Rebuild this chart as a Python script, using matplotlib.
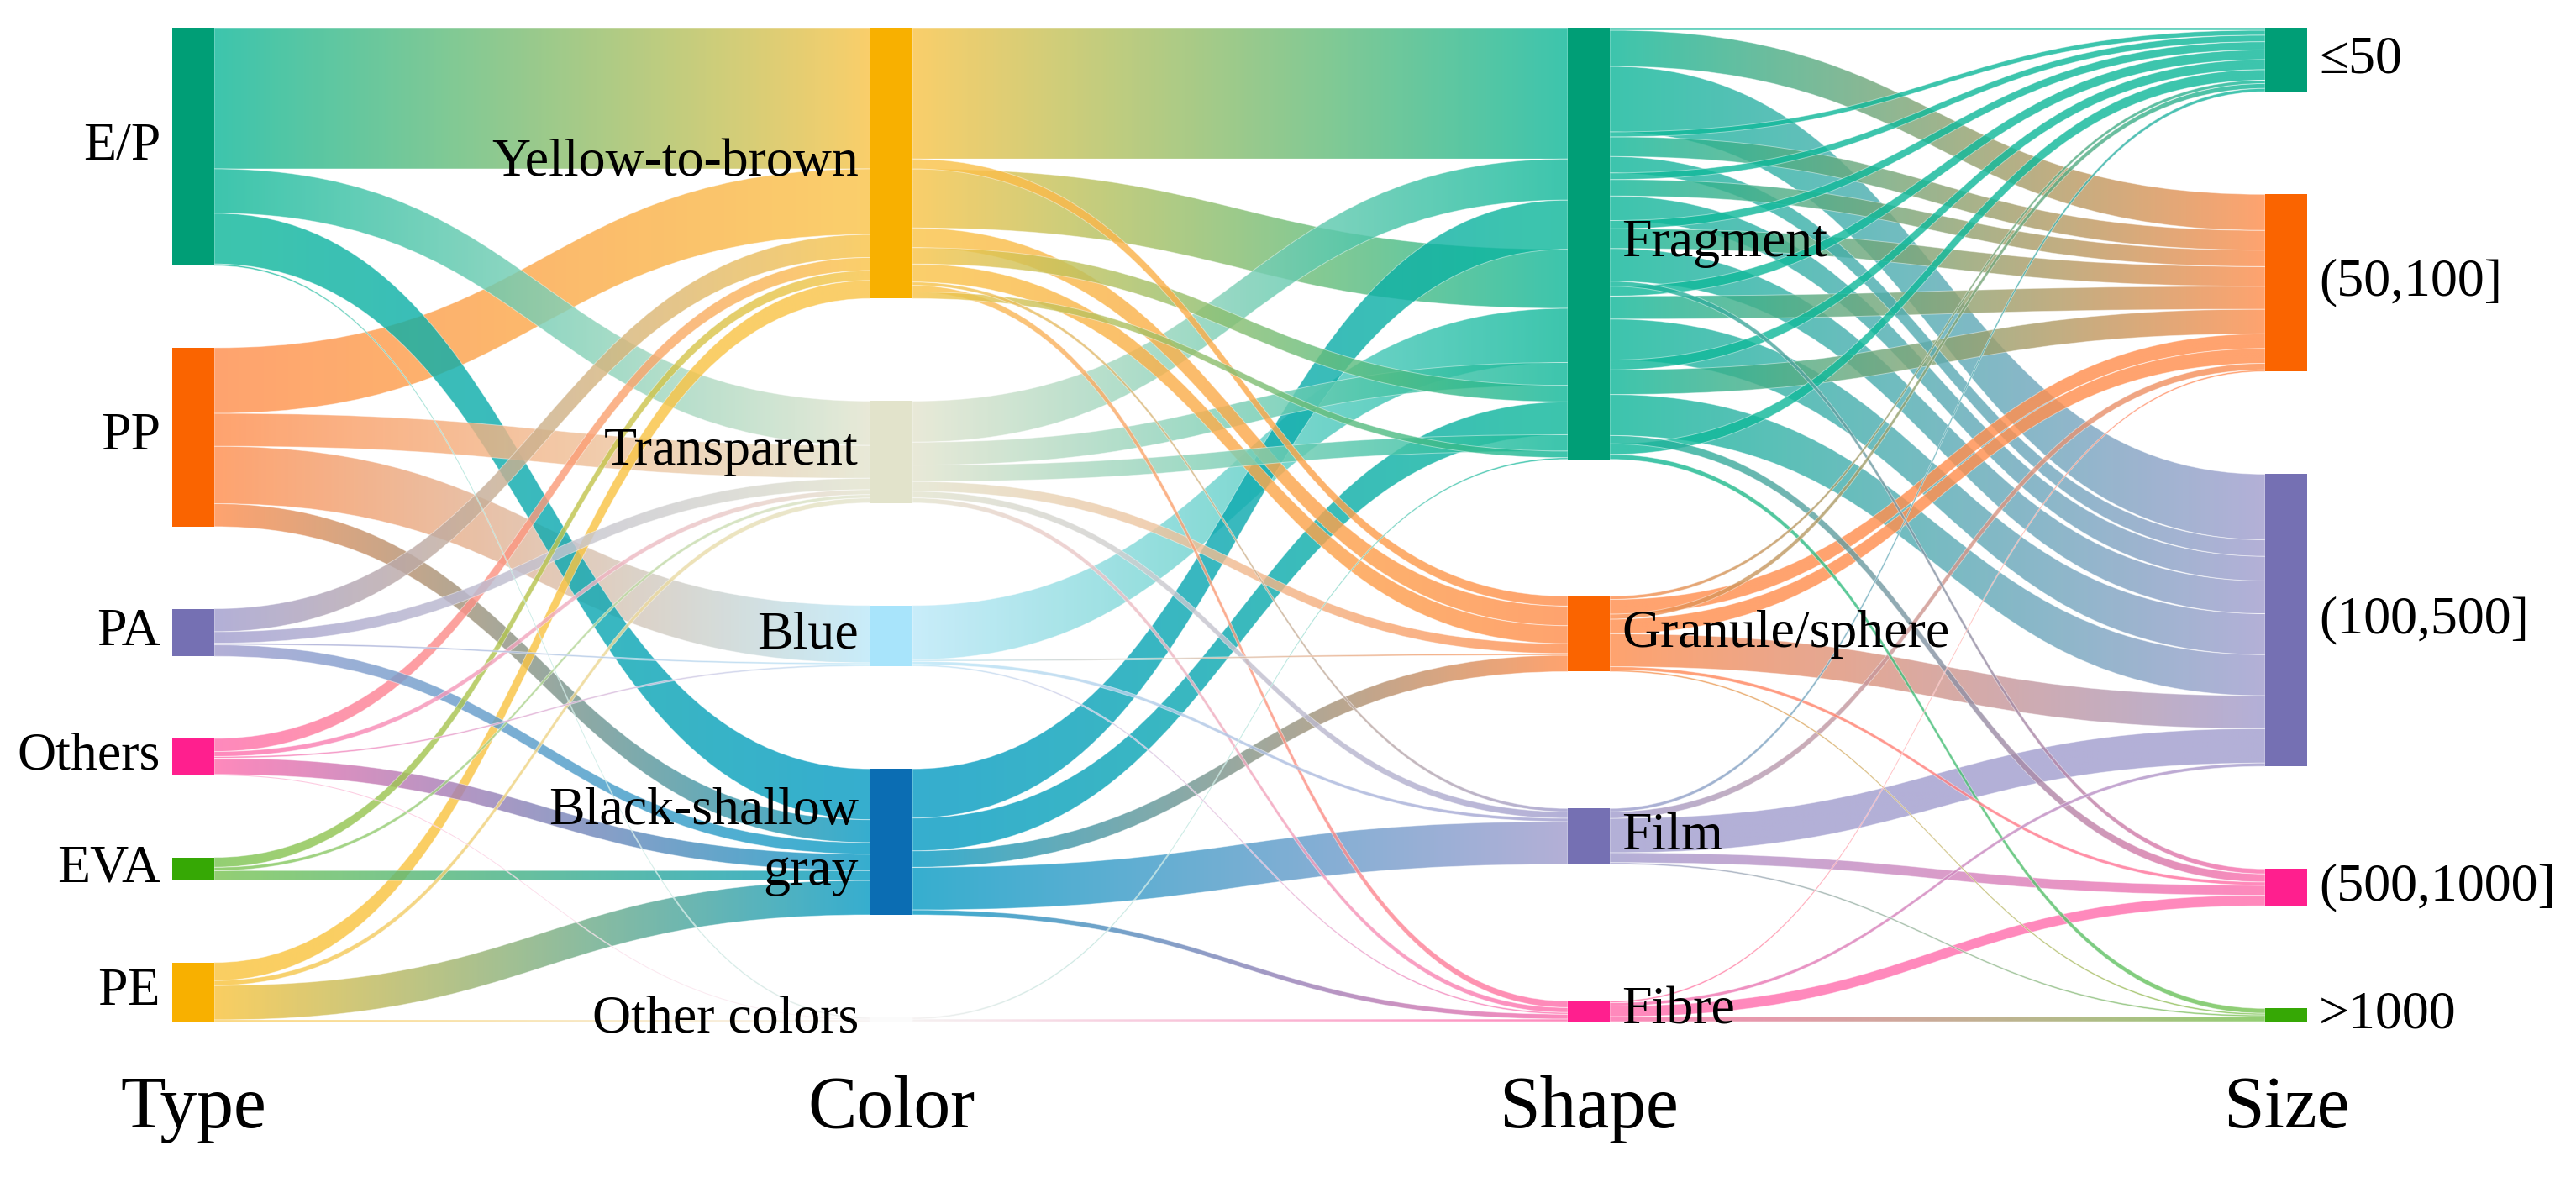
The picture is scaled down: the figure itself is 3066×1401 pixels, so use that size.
import matplotlib
matplotlib.use("Agg")
import matplotlib.pyplot as plt
import numpy as np
from matplotlib.path import Path
from matplotlib.patches import PathPatch, Rectangle
from matplotlib.colors import to_rgb

plt.rcParams['font.family'] = ['Liberation Serif', 'DejaVu Serif']

# ---- data ----
column_titles = ["Type", "Color", "Shape", "Size"]
type_nodes = ["E/P", "PP", "PA", "Others", "EVA", "PE"]
color_nodes = ["Yellow-to-brown", "Transparent", "Blue", "Black-shallow\ngray", "Other colors"]
shape_nodes = ["Fragment", "Granule/sphere", "Film", "Fibre"]
size_nodes = ["≤50", "(50,100]", "(100,500]", "(500,1000]", ">1000"]

# sub-flows (source, target, value); list order = stacking order on both nodes
type_to_color = [
    ("E/P", "Yellow-to-brown", 86), ("E/P", "Transparent", 27),
    ("E/P", "Black-shallow\ngray", 31), ("E/P", "Other colors", 1),
    ("PP", "Yellow-to-brown", 40), ("PP", "Transparent", 20),
    ("PP", "Blue", 35), ("PP", "Black-shallow\ngray", 14),
    ("PA", "Yellow-to-brown", 14), ("PA", "Transparent", 7),
    ("PA", "Blue", 1), ("PA", "Black-shallow\ngray", 7),
    ("Others", "Yellow-to-brown", 8), ("Others", "Transparent", 3),
    ("Others", "Blue", 1), ("Others", "Black-shallow\ngray", 10),
    ("Others", "Other colors", 0.5),
    ("EVA", "Yellow-to-brown", 6), ("EVA", "Transparent", 2),
    ("EVA", "Black-shallow\ngray", 6),
    ("PE", "Yellow-to-brown", 11), ("PE", "Transparent", 3),
    ("PE", "Black-shallow\ngray", 21), ("PE", "Other colors", 1),
]
color_to_shape = [
    ("Yellow-to-brown", "Fragment", 80), ("Transparent", "Fragment", 25),
    ("Black-shallow\ngray", "Fragment", 30), ("Yellow-to-brown", "Granule/sphere", 6),
    ("Yellow-to-brown", "Fragment", 36), ("Blue", "Fragment", 33),
    ("Transparent", "Fragment", 14), ("Yellow-to-brown", "Granule/sphere", 12),
    ("Yellow-to-brown", "Fragment", 10), ("Black-shallow\ngray", "Fragment", 20),
    ("Transparent", "Fragment", 10), ("Yellow-to-brown", "Granule/sphere", 11),
    ("Yellow-to-brown", "Film", 2), ("Yellow-to-brown", "Fibre", 4),
    ("Yellow-to-brown", "Fragment", 4), ("Other colors", "Fragment", 1),
    ("Transparent", "Granule/sphere", 6), ("Transparent", "Film", 4),
    ("Transparent", "Fibre", 3), ("Blue", "Granule/sphere", 1),
    ("Blue", "Film", 2), ("Blue", "Fibre", 1),
    ("Black-shallow\ngray", "Granule/sphere", 10), ("Black-shallow\ngray", "Film", 26),
    ("Black-shallow\ngray", "Fibre", 3), ("Other colors", "Fibre", 1.5),
]
shape_to_size = [
    ("Fragment", "≤50", 1.5), ("Fragment", "(50,100]", 22), ("Fragment", "(100,500]", 40),
    ("Fragment", "≤50", 3), ("Fragment", "(50,100]", 12), ("Fragment", "(100,500]", 10),
    ("Fragment", "≤50", 4), ("Fragment", "(50,100]", 10), ("Fragment", "(100,500]", 15),
    ("Fragment", "≤50", 5), ("Fragment", "(50,100]", 12), ("Fragment", "(100,500]", 20),
    ("Fragment", "(500,1000]", 3), ("Fragment", "≤50", 6), ("Fragment", "(50,100]", 14),
    ("Fragment", "(100,500]", 25), ("Fragment", "≤50", 6), ("Fragment", "(50,100]", 15),
    ("Fragment", "(100,500]", 25), ("Fragment", "(500,1000]", 5), ("Fragment", "≤50", 6.5),
    ("Fragment", ">1000", 3),
    ("Granule/sphere", "≤50", 2), ("Granule/sphere", "(50,100]", 9),
    ("Granule/sphere", "≤50", 3), ("Granule/sphere", "(50,100]", 9),
    ("Granule/sphere", "(100,500]", 20), ("Granule/sphere", "(500,1000]", 2),
    ("Granule/sphere", ">1000", 1),
    ("Film", "≤50", 2), ("Film", "(50,100]", 4), ("Film", "(100,500]", 21),
    ("Film", "(500,1000]", 6), ("Film", ">1000", 1),
    ("Fibre", "(50,100]", 1), ("Fibre", "(100,500]", 2), ("Fibre", "(500,1000]", 6.5),
    ("Fibre", ">1000", 3),
]

# (node colour, link colour)
type_colors = [("#009e76", "#12b99b"), ("#fa6400", "#ff8f4f"), ("#7570b3", "#a39fcf"),
               ("#ff1f8e", "#ff6fae"), ("#36a805", "#7cc555"), ("#f8b000", "#f9c43f")]
color_colors = [("#f8b000", "#f9c54a"), ("#e2e3cb", "#e4e5d0"), ("#a8e4fb", "#bde9f9"),
                ("#0b6db3", "#0a9cc5"), ("#fbfbfb", "#f3eeee")]
shape_colors = [("#009e76", "#12b99b"), ("#fa6400", "#ff8f4f"), ("#7570b3", "#a39fcf"),
                ("#ff1f8e", "#ff6fae")]
size_colors = [("#009e76", "#12b99b"), ("#fa6400", "#ff8f4f"), ("#7570b3", "#a39fcf"),
               ("#ff1f8e", "#ff6fae"), ("#36a805", "#7cc555")]

# ---- layout ----
W, H = 3066, 1401
col_x = [205, 1036, 1866, 2696]
node_w = 50
y_top, y_bot = 33, 1216

names = [type_nodes, color_nodes, shape_nodes, size_nodes]
cols = [type_colors, color_colors, shape_colors, size_colors]
stages = [type_to_color, color_to_shape, shape_to_size]

values = []
for c in range(4):
    v_in = np.zeros(len(names[c]))
    v_out = np.zeros(len(names[c]))
    if c > 0:
        for s, t, v in stages[c - 1]:
            v_in[names[c].index(t)] += v
    if c < 3:
        for s, t, v in stages[c]:
            v_out[names[c].index(s)] += v
    values.append(np.maximum(v_in, v_out))

ky = 0.587 * (y_bot - y_top) / max(v.sum() for v in values)
node_y = []
for v in values:
    gap = ((y_bot - y_top) - v.sum() * ky) / (len(v) - 1)
    node_y.append(y_top + np.concatenate([[0], np.cumsum(v[:-1] * ky + gap)]))

fig = plt.figure(figsize=(W / 100, H / 100), dpi=100)
ax = fig.add_axes([0, 0, 1, 1])
ax.set_xlim(0, W)
ax.set_ylim(H, 0)
ax.axis("off")


def draw_link(x0, x1, s0, t0, h, c0, c1, z):
    xm = (x0 + x1) / 2
    s1, t1 = s0 + h, t0 + h
    verts = [(x0, s0), (xm, s0), (xm, t0), (x1, t0),
             (x1, t1), (xm, t1), (xm, s1), (x0, s1), (x0, s0)]
    codes = [Path.MOVETO, Path.CURVE4, Path.CURVE4, Path.CURVE4,
             Path.LINETO, Path.CURVE4, Path.CURVE4, Path.CURVE4, Path.CLOSEPOLY]
    patch = PathPatch(Path(verts, codes), facecolor="none", edgecolor="white",
                      lw=0.7, alpha=0.45, zorder=z + 0.0005)
    ax.add_patch(patch)
    a, b = np.array(to_rgb(c0)), np.array(to_rgb(c1))
    t = np.linspace(0, 1, 256)[:, None]
    grad = (a * (1 - t) + b * t)[None, :, :]
    im = ax.imshow(grad, extent=(x0, x1, max(s1, t1), min(s0, t0)), aspect="auto",
                   interpolation="bilinear", alpha=0.82, zorder=z)
    im.set_clip_path(patch)


for c, links in enumerate(stages):
    src_cur = list(node_y[c])
    tgt_cur = list(node_y[c + 1])
    bands = []
    for s, t, v in links:
        i, j = names[c].index(s), names[c + 1].index(t)
        h = v * ky
        bands.append((v, src_cur[i], tgt_cur[j], h, cols[c][i][1], cols[c + 1][j][1]))
        src_cur[i] += h
        tgt_cur[j] += h
    # wide bands underneath, thin strands on top
    for k, (v, sy, ty, h, c0, c1) in enumerate(sorted(bands, key=lambda b: -b[0])):
        draw_link(col_x[c] + node_w, col_x[c + 1], sy, ty, h, c0, c1, 1 + k * 0.001)

# nodes and labels
for c in range(4):
    for k, name in enumerate(names[c]):
        y0 = node_y[c][k]
        h = values[c][k] * ky
        ax.add_patch(Rectangle((col_x[c], y0), node_w, h, facecolor=cols[c][k][0],
                               edgecolor="none", zorder=3))
        yc = y0 + h / 2
        if c < 2:
            ax.text(col_x[c] - 14, yc, name, ha="right", va="center", fontsize=46,
                    linespacing=1.3, multialignment="right", zorder=4)
        else:
            ax.text(col_x[c] + node_w + 14, yc, name, ha="left", va="center",
                    fontsize=46, zorder=4)
    ax.text(col_x[c] + node_w / 2, 1342, column_titles[c], ha="center", va="baseline",
            fontsize=63, zorder=4)

fig.savefig("out.png", dpi=100)
